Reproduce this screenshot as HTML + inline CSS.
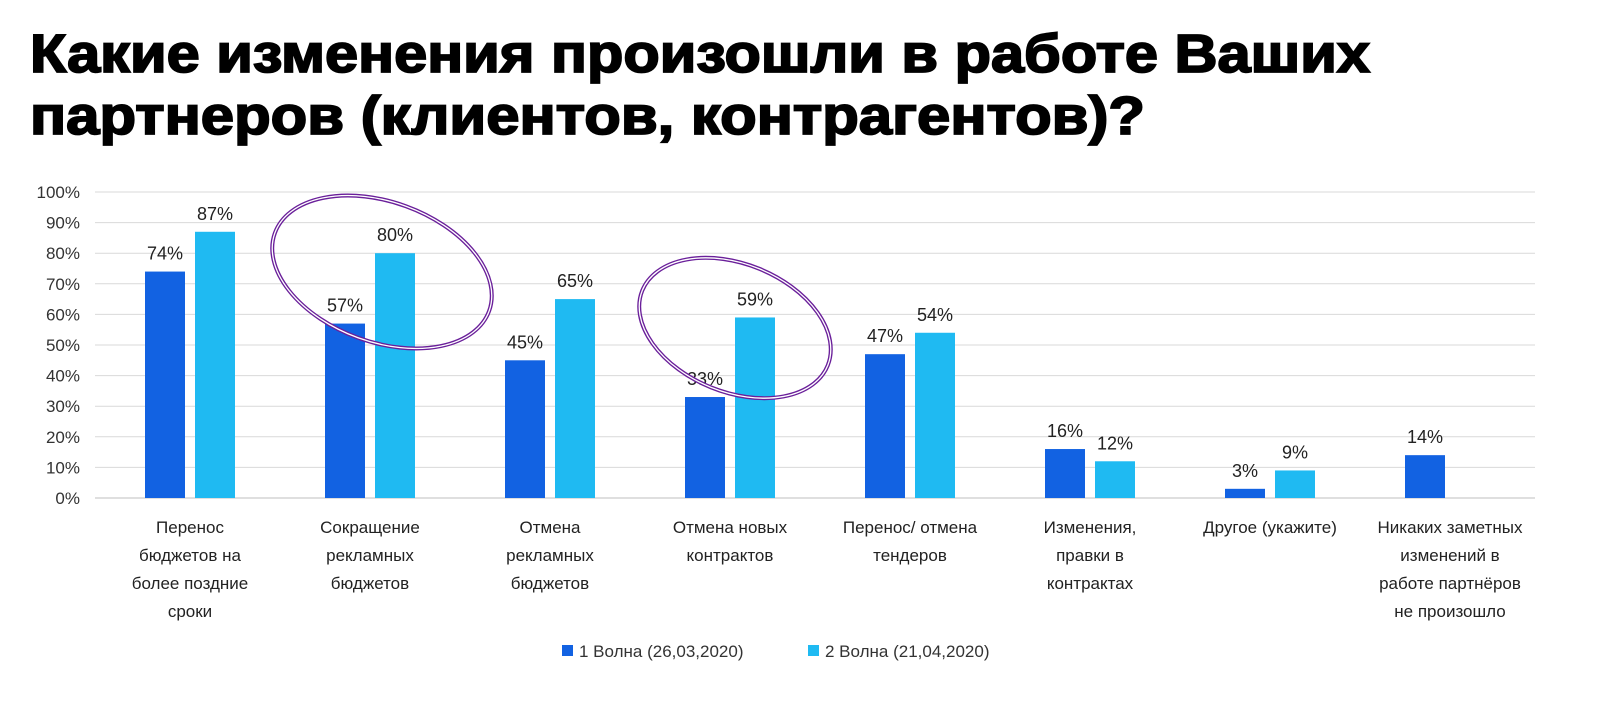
<!DOCTYPE html>
<html><head><meta charset="utf-8"><style>
body{margin:0;background:#fff;width:1600px;height:706px;overflow:hidden;font-family:"Liberation Sans",sans-serif}
</style></head><body>
<svg id="chart" width="1600" height="706" xmlns="http://www.w3.org/2000/svg">
<g font-family="Liberation Sans, sans-serif" font-weight="900" font-size="54" fill="#000">
<text x="30" y="72" textLength="1340" lengthAdjust="spacingAndGlyphs" stroke="#000" stroke-width="1.8">Какие изменения произошли в работе Ваших</text>
<text x="30" y="134" textLength="1115" lengthAdjust="spacingAndGlyphs" stroke="#000" stroke-width="1.8">партнеров (клиентов, контрагентов)?</text>
</g>
<g id="grid"></g><g id="bars"></g><g id="xl"></g>
<g font-size="17" fill="#333">
<rect x="562" y="645" width="11" height="11" fill="#1262e2"/>
<text x="579" y="657">1 Волна (26,03,2020)</text>
<rect x="808" y="645" width="11" height="11" fill="#1fbaf2"/>
<text x="825" y="657">2 Волна (21,04,2020)</text>
</g>
<g fill="none" stroke="#6a1f9a">
<ellipse cx="382" cy="272" rx="114" ry="70" transform="rotate(20 382 272)" stroke-width="4"/>
<ellipse cx="382" cy="272" rx="114" ry="70" transform="rotate(20 382 272)" stroke="#fff" stroke-width="1.3"/>
<ellipse cx="735" cy="328" rx="100" ry="64" transform="rotate(22 735 328)" stroke-width="4"/>
<ellipse cx="735" cy="328" rx="100" ry="64" transform="rotate(22 735 328)" stroke="#fff" stroke-width="1.3"/>
</g>
</svg>
<script>
const categories=[["Перенос","бюджетов на","более поздние","сроки"],["Сокращение","рекламных","бюджетов"],["Отмена","рекламных","бюджетов"],["Отмена новых","контрактов"],["Перенос/ отмена","тендеров"],["Изменения,","правки в","контрактах"],["Другое (укажите)"],["Никаких заметных","изменений в","работе партнёров","не произошло"]];
const wave1=[74,57,45,33,47,16,3,14];
const wave2=[87,80,65,59,54,12,9,null];
const yTicks=[0,10,20,30,40,50,60,70,80,90,100];
const NS="http://www.w3.org/2000/svg";
const x0=100,x1=1540,yB=498,yT=192;
const y=v=>yB-(yB-yT)*v/100;
const band=(x1-x0)/categories.length;
const cx=i=>x0+band*(i+0.5);
function mk(t,a,p,txt){const e=document.createElementNS(NS,t);for(const k in a)e.setAttribute(k,a[k]);if(txt!=null)e.textContent=txt;p.appendChild(e);return e;}
const g=document.getElementById('grid'),b=document.getElementById('bars'),xl=document.getElementById('xl');
yTicks.forEach(t=>{
const l=mk('line',{x1:x0-5,x2:x1-5,y1:y(t),y2:y(t),stroke:t===0?'#bfbfbf':'#d9d9d9','stroke-width':1},g);


const tx=mk('text',{x:80,y:y(t)+6,'text-anchor':'end','font-size':17,fill:'#333'},g,t+'%');


});
const bw=40;
[[wave1,'#1262e2',-25],[wave2,'#1fbaf2',25]].forEach(([s,c,off],si)=>{
s.forEach((v,i)=>{if(v==null)return;
const r=mk('rect',{x:cx(i)+off-bw/2,y:y(v),width:bw,height:yB-y(v),fill:c},b);


const t=mk('text',{x:cx(i)+off,y:y(v)-12,'text-anchor':'middle','font-size':18,fill:'#222'},b,v+'%');


});});
categories.forEach((lines,i)=>{
lines.forEach((ln,j)=>{
const t=mk('text',{x:cx(i),y:533+j*28,'text-anchor':'middle','font-size':17,fill:'#222'},xl,ln);


});});
</script>
</body></html>
